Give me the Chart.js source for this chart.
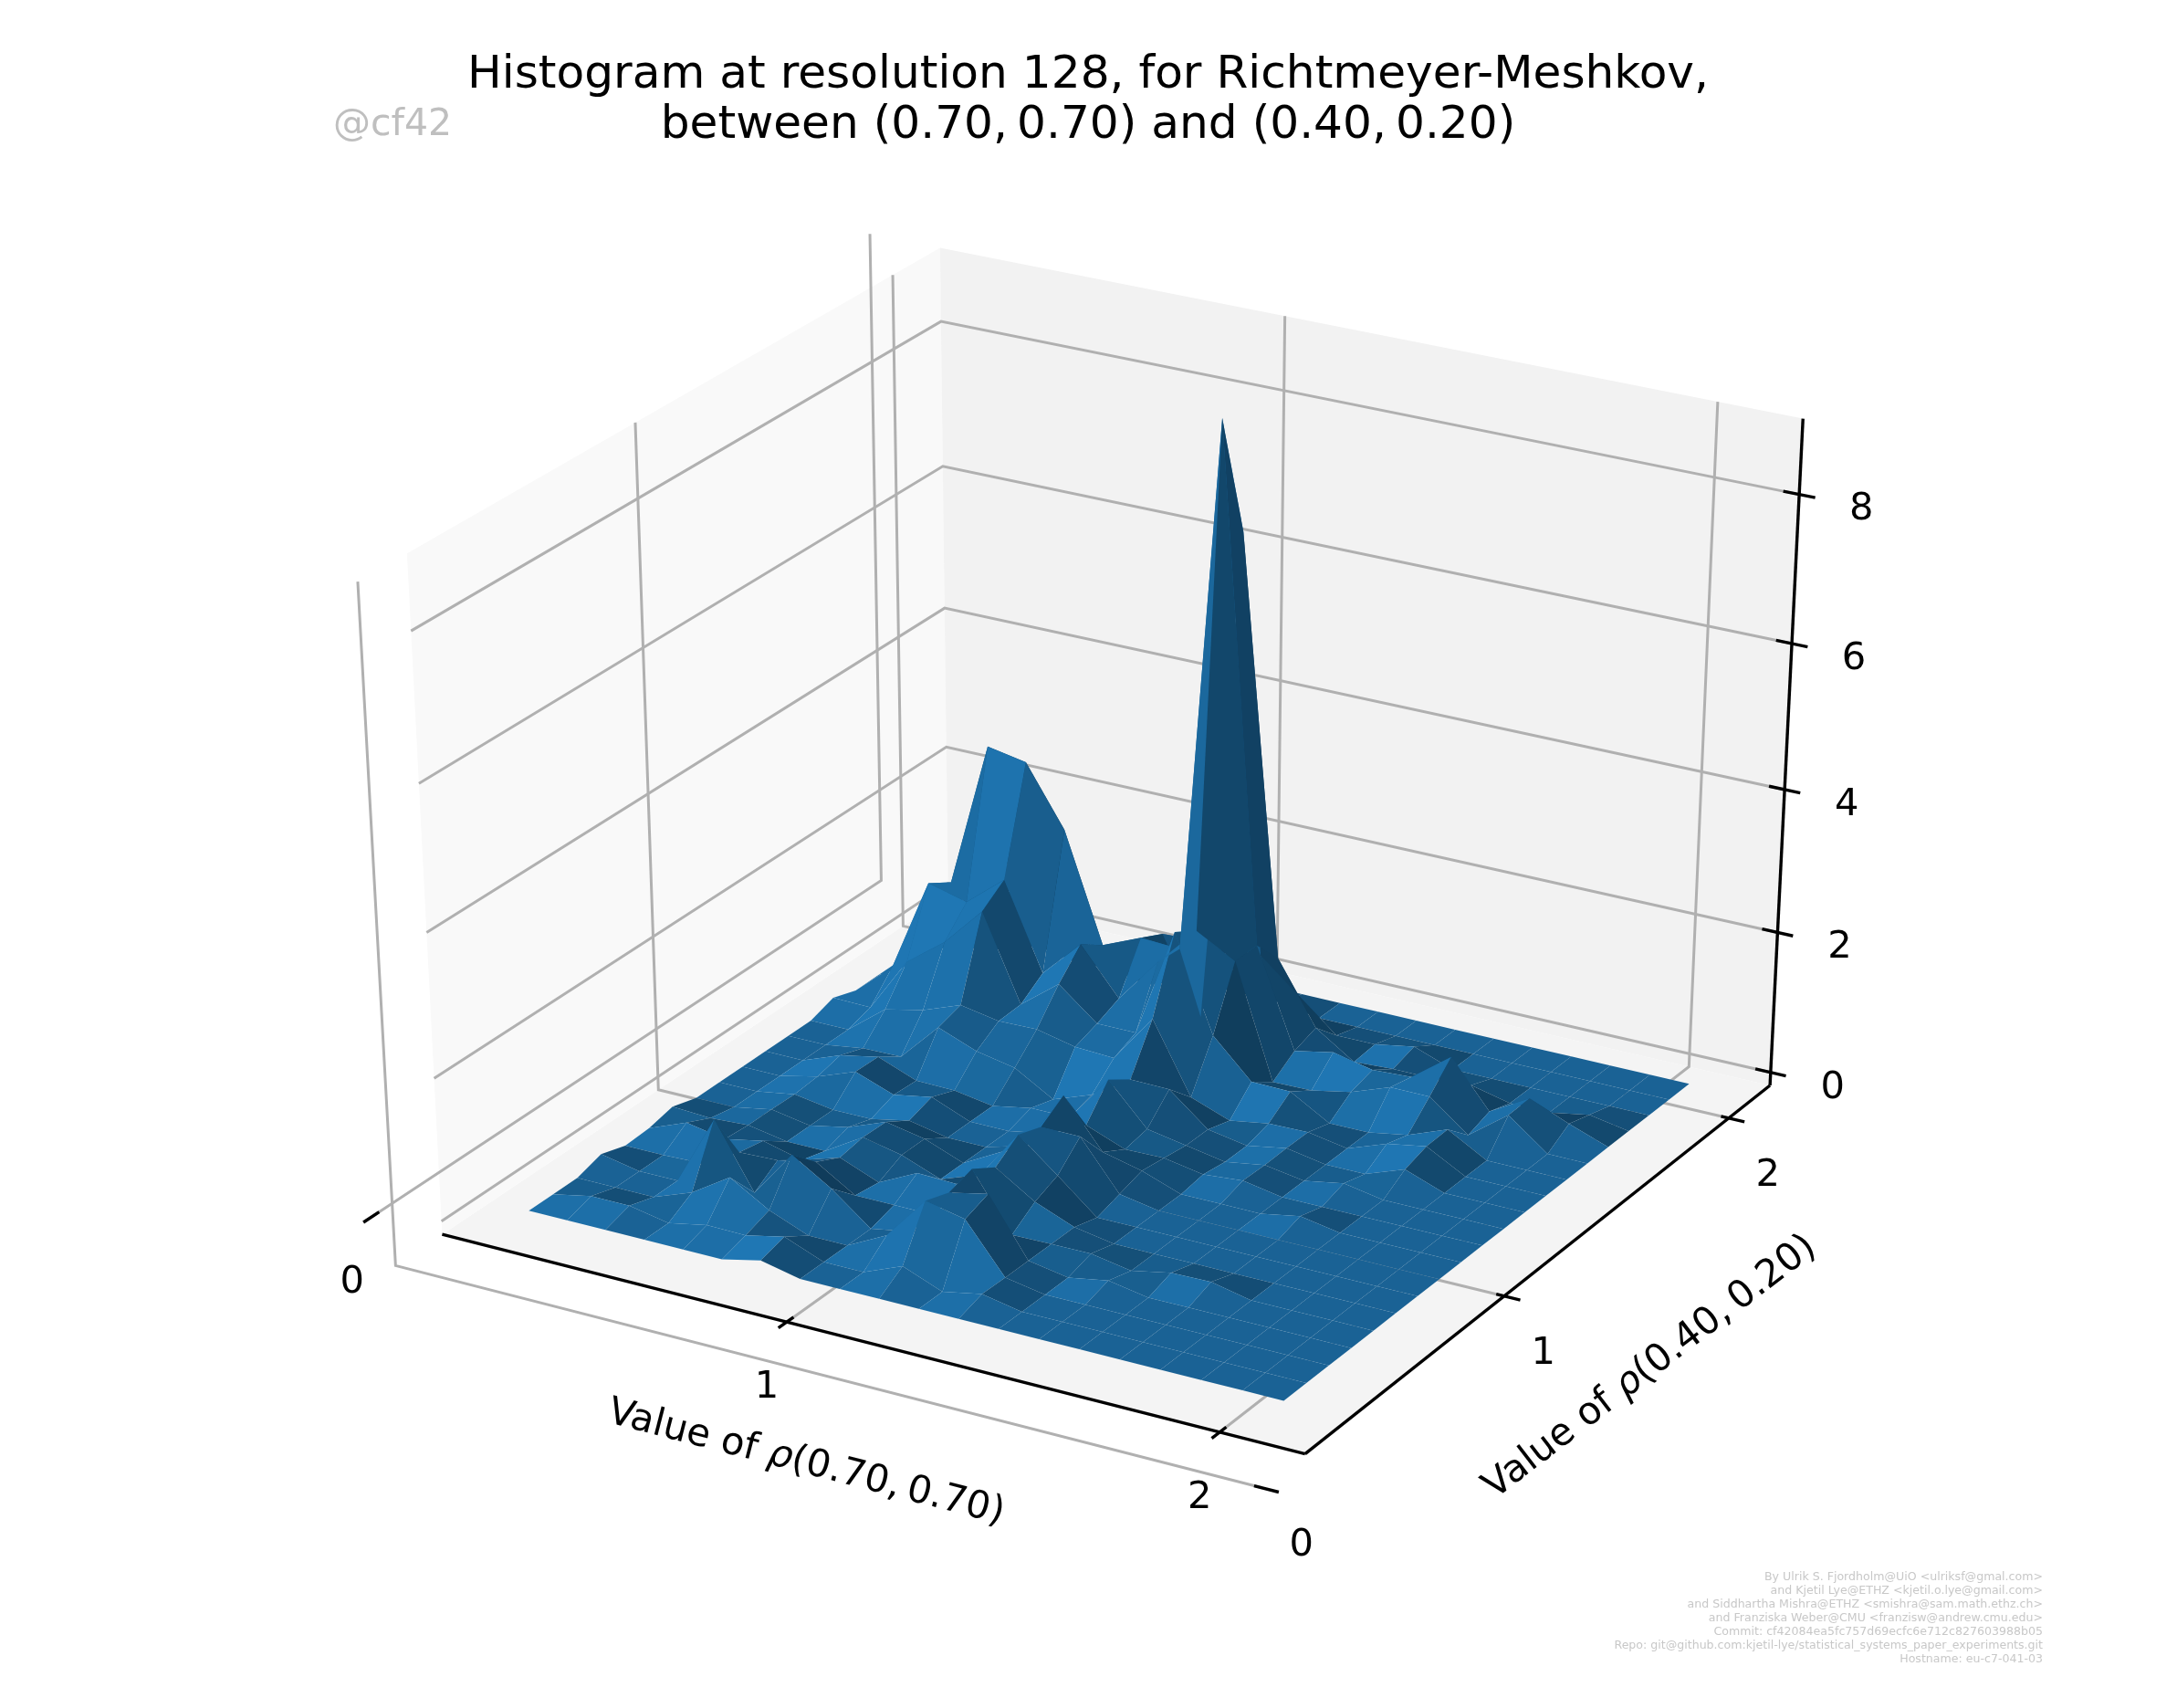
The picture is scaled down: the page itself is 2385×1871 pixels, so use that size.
<!DOCTYPE html>
<html>
<head>
<meta charset="utf-8">
<title>Histogram at resolution 128</title>
<style>
  html, body { margin: 0; padding: 0; background: #fff; }
  canvas { display: block; }
</style>
<script src="https://cdn.jsdelivr.net/npm/chart.js@4/dist/chart.umd.js"></script>
</head>
<body>
<canvas id="surface" width="2385" height="1871"></canvas>
<script>
// Bin centres on both axes and the histogram heights (rows run along rho(0.40, 0.20))
const rhoFirst = [0.299, 0.392, 0.485, 0.579, 0.672, 0.765, 0.858, 0.951, 1.045, 1.138, 1.231, 1.324, 1.417, 1.511, 1.604, 1.697, 1.790, 1.883, 1.977, 2.070]
const rhoSecond = [0.304, 0.396, 0.488, 0.580, 0.672, 0.765, 0.857, 0.949, 1.041, 1.133, 1.225, 1.317, 1.409, 1.501, 1.593, 1.686, 1.778, 1.870, 1.962, 2.054]
const density = [
  [0, 0, 0, 0, 0, 0, .12, 0, 0, 0, 0, 0, 0, 0, 0, 0, 0, 0, 0, 0],
  [0, .11, .11, 0, .11, .10, .22, 0, 0, .22, 0, .11, 0, 0, 0, 0, 0, 0, 0, 0],
  [0, 0, 0, .2, .55, .22, 0, 0, .28, .9, .78, .1, 0, 0, 0, 0, 0, 0, 0, 0],
  [.11, 0, 0, 1.0, .1, .77, .43, 0, .1, .78, .9, .1, 0, .1, 0, 0, 0, 0, 0, 0],
  [0, 0, .02, .31, .33, .44, .1, .1, .1, .88, .09, .1, .1, 0, .11, .12, 0, 0, 0, 0],
  [.02, .23, .13, .24, .1, .27, .05, .32, .3, .67, .32, .1, 0, 0, 0, 0, 0, 0, 0, 0],
  [.1, .07, .1, 0, 0, .33, .21, 0, .2, .9, .46, 0, 0, 0, 0, 0, 0, 0, 0, 0],
  [0, 0, .1, 0, .11, .32, .21, 0, .3, .78, .78, .1, 0, 0, 0, 0, 0, 0, 0, 0],
  [0, 0, .09, 0, 0, .11, 0, 0, .15, 1.0, .33, .2, 0, 0, 0, .1, 0, 0, 0, 0],
  [0, 0, .12, .32, .12, .22, 0, 0, .1, .35, .14, .15, .05, .1, 0, 0, 0, 0, 0, 0],
  [0, 0, .2, .31, .1, .09, 0, .1, .1, .77, .2, .1, 0, .09, 0, .1, 0, 0, 0, 0],
  [0, 0, .08, .09, .64, .43, .32, 0, .2, .55, .54, .1, 0, .1, 0, 0, .2, 0, 0, 0],
  [0, 0, .42, .54, .74, .64, .65, .53, .5, 1.19, .2, 0, .09, .1, 0, .2, .3, 0, 0, 0],
  [.11, .1, .89, 1.3, 1.86, .66, 1.08, .64, .64, 2.2, .86, .33, .32, 0, 0, .1, .31, 0, 0, 0],
  [0, .47, 1.8, 1.66, 2.1, .89, 1.43, .78, 1.43, 2.0, 1.7, .1, .11, .22, .42, .42, 0, .42, 0, 0],
  [0, .3, 1.6, 3.65, 3.55, 2.72, 1.2, 1.43, 1.4, 8.8, 1.7, .32, .43, .31, .34, .76, .11, .43, .2, 0],
  [0, .3, .9, 1.4, 1.3, .9, .7, 1.27, .2, 7.1, 1.3, .43, .07, .1, .1, .13, 0, 0, .1, 0],
  [0, .1, .2, .4, .3, .3, .2, 1.0, 1.0, 1.0, .55, .1, .1, .2, 0, 0, 0, 0, 0, 0],
  [0, 0, .05, .1, .05, .05, 0, .1, .1, .1, 0, 0, 0, 0, 0, 0, 0, 0, 0, 0],
  [0, 0, 0, 0, 0, 0, 0, 0, 0, 0, 0, 0, 0, 0, 0, 0, 0, 0, 0, 0],
]
const xTicks = [0, 1, 2]
const yTicks = [0, 1, 2]
const zTicks = [0, 2, 4, 6, 8]

const titleLines = ["Histogram at resolution 128, for Richtmeyer-Meshkov,", "between (0.70,\u20090.70) and (0.40,\u20090.20)"]
const creditLines = [
  "By Ulrik S. Fjordholm@UiO <ulriksf@gmal.com>",
  "and Kjetil Lye@ETHZ <kjetil.o.lye@gmail.com>",
  "and Siddhartha Mishra@ETHZ <smishra@sam.math.ethz.ch>",
  "and Franziska Weber@CMU <franzisw@andrew.cmu.edu>",
  "Commit: cf42084ea5fc757d69ecfc6e712c827603988b05",
  "Repo: git@github.com:kjetil-lye/statistical_systems_paper_experiments.git",
  "Hostname: eu-c7-041-03",
]

// View box of the 3D axes
const xLim = [0.172, 2.192]
const yLim = [0.172, 2.192]
const zLim = [-0.188, 9.0]

const FONT = '"DejaVu Sans"'

// Same camera as a 3D matplotlib axes: elev 30, azim -60, dist 10
function project(x, y, z) {
  const a = (x - xLim[0]) / (xLim[1] - xLim[0]) - 0.5
  const b = (y - yLim[0]) / (yLim[1] - yLim[0]) - 0.5
  const c = (z - zLim[0]) / (zLim[1] - zLim[0]) - 0.5
  const u = 0.866025 * a + 0.5 * b
  const v = -0.25 * a + 0.433013 * b + 0.866025 * c
  const n = 0.433013 * a - 0.75 * b + 0.5 * c
  const d = 10 - n
  return { x: u / d, y: v / d, depth: d }
}

function lineSet(points, color, width) {
  return {
    data: points.map((p) => project(p[0], p[1], p[2])),
    showLine: true,
    borderColor: color,
    borderWidth: width,
    pointRadius: 0,
    fill: false,
  }
}

function paneSet(points, color) {
  return {
    data: points.map((p) => project(p[0], p[1], p[2])),
    showLine: true,
    backgroundColor: color,
    borderWidth: 0,
    pointRadius: 0,
    fill: "shape",
  }
}

// Surface cells, shaded like plot_surface and sorted far to near
function surfaceSets() {
  const cells = []
  for (let j = 0; j < rhoSecond.length - 1; j++) {
    for (let i = 0; i < rhoFirst.length - 1; i++) {
      const z00 = density[j][i]
      const z10 = density[j][i + 1]
      const z11 = density[j + 1][i + 1]
      const z01 = density[j + 1][i]
      const dx = rhoFirst[i + 1] - rhoFirst[i]
      const dy = rhoSecond[j + 1] - rhoSecond[j]
      const zx = (z10 - z00) / dx
      const zy = (z11 - z10) / dy
      const shade = (zx + zy + 0.5) / (1.5 * Math.sqrt(zx * zx + zy * zy + 1))
      const corners = [
        project(rhoFirst[i], rhoSecond[j], z00),
        project(rhoFirst[i + 1], rhoSecond[j], z10),
        project(rhoFirst[i + 1], rhoSecond[j + 1], z11),
        project(rhoFirst[i], rhoSecond[j + 1], z01),
      ]
      const depth = corners.reduce((s, p) => s + p.depth, 0) / 4
      cells.push({ corners, shade, depth })
    }
  }
  const lo = Math.min(...cells.map((c) => c.shade))
  const hi = Math.max(...cells.map((c) => c.shade))
  cells.sort((a, b) => b.depth - a.depth)
  return cells.map((c) => {
    const k = 0.5 + 0.5 * (c.shade - lo) / (hi - lo)
    return {
      data: c.corners,
      showLine: true,
      backgroundColor: `rgb(${Math.round(31 * k)}, ${Math.round(119 * k)}, ${Math.round(180 * k)})`,
      borderWidth: 0,
      pointRadius: 0,
      fill: "shape",
    }
  })
}

function buildDatasets() {
  const [x0, x1] = xLim
  const [y0, y1] = yLim
  const [z0, z1] = zLim
  const sets = []

  // Panes
  sets.push(paneSet([[x0, y0, z0], [x1, y0, z0], [x1, y1, z0], [x0, y1, z0]], "#f4f4f4"))
  sets.push(paneSet([[x0, y0, z0], [x0, y1, z0], [x0, y1, z1], [x0, y0, z1]], "#f9f9f9"))
  sets.push(paneSet([[x0, y1, z0], [x1, y1, z0], [x1, y1, z1], [x0, y1, z1]], "#f2f2f2"))

  // Grid
  xTicks.forEach((t) => sets.push(lineSet([[t, y0, z0], [t, y1, z0], [t, y1, z1]], "#b0b0b0", 3)))
  yTicks.forEach((t) => sets.push(lineSet([[x1, t, z0], [x0, t, z0], [x0, t, z1]], "#b0b0b0", 3)))
  zTicks.forEach((t) => sets.push(lineSet([[x0, y0, t], [x0, y1, t], [x1, y1, t]], "#b0b0b0", 3)))

  // Axis lines and ticks
  sets.push(lineSet([[x0, y0, z0], [x1, y0, z0]], "#000", 3.4))
  sets.push(lineSet([[x1, y0, z0], [x1, y1, z0]], "#000", 3.4))
  sets.push(lineSet([[x1, y1, z0], [x1, y1, z1]], "#000", 3.4))
  xTicks.forEach((t) => sets.push(lineSet([[t, y0 + 0.026, z0], [t, y0 - 0.032, z0]], "#000", 3.4)))
  yTicks.forEach((t) => sets.push(lineSet([[x1 - 0.018, t, z0], [x1 + 0.037, t, z0]], "#000", 3.4)))
  zTicks.forEach((t) => sets.push(lineSet([[x1 - 0.036, y1, t], [x1 + 0.036, y1, t]], "#000", 3.4)))

  sets.push(...surfaceSets())
  // Chart.js paints the first dataset last
  return sets.reverse()
}

function drawRuns(ctx, runs, cx, cy, angle) {
  ctx.save()
  ctx.translate(cx, cy)
  ctx.rotate(angle * Math.PI / 180)
  ctx.textBaseline = "middle"
  ctx.textAlign = "left"
  let total = 0
  runs.forEach((r) => { ctx.font = r.font; total += ctx.measureText(r.text).width })
  let at = -total / 2
  runs.forEach((r) => {
    ctx.font = r.font
    ctx.fillText(r.text, at, 0)
    at += ctx.measureText(r.text).width
  })
  ctx.restore()
}

const textPlugin = {
  id: "figureText",
  afterDraw(chart) {
    const ctx = chart.ctx
    const sx = chart.scales.x
    const sy = chart.scales.y
    const px = (p) => [sx.getPixelForValue(p.x), sy.getPixelForValue(p.y)]
    ctx.save()
    ctx.fillStyle = "#000"

    // Title
    ctx.font = `50.2px ${FONT}`
    ctx.textAlign = "center"
    ctx.textBaseline = "alphabetic"
    titleLines.forEach((line, k) => ctx.fillText(line, 1192, 96 + k * 55))

    // Tick labels
    ctx.font = `41.67px ${FONT}`
    ctx.textBaseline = "middle"
    xTicks.forEach((t) => {
      const [a, b] = px(project(t, yLim[0], zLim[0]))
      ctx.fillText(String(t), a - 22, b + 72)
    })
    yTicks.forEach((t) => {
      const [a, b] = px(project(xLim[1], t, zLim[0]))
      ctx.fillText(String(t), a + 43, b + 63)
    })
    zTicks.forEach((t) => {
      const [a, b] = px(project(xLim[1], yLim[1], t))
      ctx.fillText(String(t), a + 68, b + 17)
    })

    // Axis titles
    const plain = `41.67px ${FONT}`
    const slanted = `italic 41.67px ${FONT}`
    drawRuns(ctx, [
      { text: "Value of ", font: plain },
      { text: "ρ", font: slanted },
      { text: "(0.70,\u20090.70)", font: plain },
    ], 883, 1603, 14.5)
    drawRuns(ctx, [
      { text: "Value of ", font: plain },
      { text: "ρ", font: slanted },
      { text: "(0.40,\u20090.20)", font: plain },
    ], 1808, 1498, -37.5)

    // Watermark and credits
    ctx.fillStyle = "#bfbfbf"
    ctx.font = `41px ${FONT}`
    ctx.textAlign = "left"
    ctx.textBaseline = "alphabetic"
    ctx.fillText("@cf42", 365, 148)
    ctx.fillStyle = "#c8c8c8"
    ctx.font = `12.58px ${FONT}`
    ctx.textAlign = "right"
    ctx.textBaseline = "middle"
    creditLines.forEach((line, k) => ctx.fillText(line, 2238, 1728 + k * 15))
    ctx.restore()
  },
}

new Chart(document.getElementById("surface").getContext("2d"), {
  type: "scatter",
  data: { datasets: buildDatasets() },
  plugins: [textPlugin],
  options: {
    responsive: false,
    animation: false,
    devicePixelRatio: 1,
    layout: { padding: 0 },
    events: [],
    scales: {
      x: { type: "linear", display: false, min: -0.11207, max: 0.10648 },
      y: { type: "linear", display: false, min: -0.11288, max: 0.10677 },
    },
    plugins: {
      legend: { display: false },
      tooltip: { enabled: false },
      title: { display: false },
      filler: { drawTime: "beforeDatasetDraw", propagate: false },
    },
  },
})
</script>
</body>
</html>
